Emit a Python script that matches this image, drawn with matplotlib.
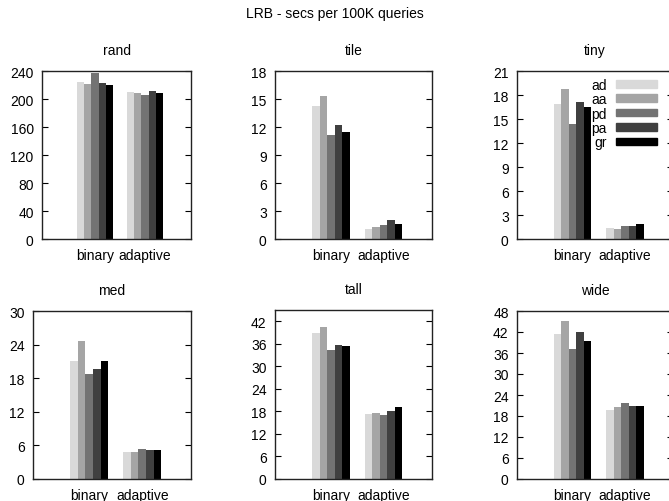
import numpy as np
import matplotlib.pyplot as plt
from matplotlib.patches import Patch

plt.rcParams['font.family'] = ['Liberation Sans', 'DejaVu Sans']
plt.rcParams['font.size'] = 10

groups = ['binary', 'adaptive']
series = ['ad', 'aa', 'pd', 'pa', 'gr']
colors = ['#d9d9d9', '#a5a5a5', '#737373', '#404040', '#000000']

panels = ['rand', 'tile', 'tiny', 'med', 'tall', 'wide']
# values[panel] -> one list per series, [binary, adaptive]
values = {
    'rand': [[224.4, 210.1], [221.5, 208.7], [237.2, 205.9], [223.0, 211.6], [220.1, 208.7]],
    'tile': [[14.27, 1.10], [15.33, 1.25], [11.13, 1.46], [12.20, 1.99], [11.49, 1.57]],
    'tiny': [[16.85, 1.41], [18.70, 1.29], [14.36, 1.66], [17.14, 1.66], [16.50, 1.91]],
    'med':  [[21.05, 4.86], [24.66, 4.86], [18.73, 5.39], [19.62, 5.22], [21.05, 5.22]],
    'tall': [[38.9, 17.4], [40.5, 17.6], [34.4, 17.1], [35.7, 18.2], [35.4, 19.2]],
    'wide': [[41.4, 19.7], [45.1, 20.6], [37.1, 21.7], [41.9, 20.9], [39.4, 20.9]],
}
ylims = {'rand': (240, 40), 'tile': (18, 3), 'tiny': (21, 3),
         'med': (30, 6), 'tall': (45, 6), 'wide': (48, 6)}

W, H = 669, 502
# pixel boxes: left, top, right, bottom
boxes = {
    'rand': (42, 72, 191, 240), 'tile': (275, 72, 432, 240), 'tiny': (517, 72, 673, 240),
    'med': (33, 312, 191, 480), 'tall': (275, 311, 432, 480), 'wide': (517, 312, 673, 480),
}

fig = plt.figure(figsize=(W / 100, H / 100), dpi=100)
fig.text(0.5, 1 - 14 / H, 'LRB - secs per 100K queries', ha='center', va='center', fontsize=10)

bw = 1 / 7
x = np.arange(len(groups))
for name in panels:
    l, t, r, b = boxes[name]
    ax = fig.add_axes([l / W, (H - b) / H, (r - l) / W, (b - t) / H])
    for j, s in enumerate(series):
        ax.bar(x + (j - 2) * bw, values[name][j], width=bw, color=colors[j], label=s)
    top, step = ylims[name]
    ax.set_ylim(0, top)
    ax.set_yticks(np.arange(0, top + 0.1, step))
    ax.set_xlim(-1.06, 1.92)
    ax.set_xticks(x)
    ax.set_xticklabels(groups)
    ax.tick_params(axis='x', length=0, pad=6.5)
    ax.tick_params(axis='y', direction='in', length=4, right=True, pad=6)
    for sp in ax.spines.values():
        sp.set_color('#222222')
        sp.set_linewidth(1)
    ax.set_title(name, fontsize=10, pad=12)
    if name == 'tiny':
        handles = [Patch(color=c) for c in colors]
        ax.legend(handles, series, loc='upper right', bbox_to_anchor=(0.897, 0.96),
                  frameon=False, markerfirst=False, borderpad=0, borderaxespad=0,
                  handlelength=2.95, handleheight=0.45, handletextpad=0.65,
                  labelspacing=0.03, fontsize=10)

fig.savefig('out.png', dpi=100)
